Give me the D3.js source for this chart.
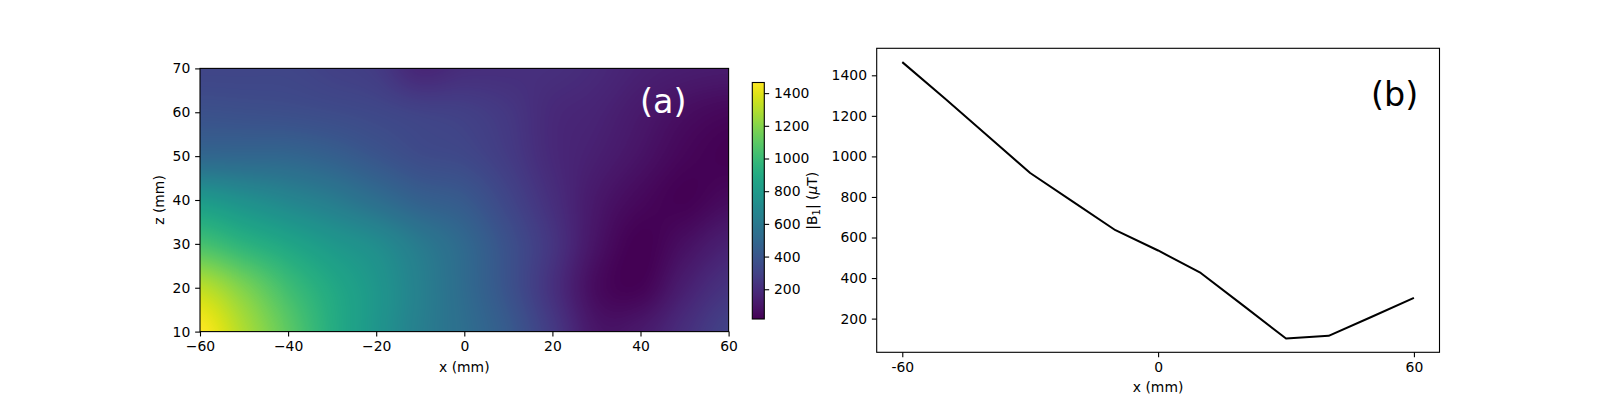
<!DOCTYPE html>
<html>
<head>
<meta charset="utf-8">
<script src="https://cdn.jsdelivr.net/npm/d3@7"></script>
<style>
  body { margin: 0; background: #fff; }
  text { font-family: "DejaVu Sans", sans-serif; }
</style>
</head>
<body>
<div id="chart"></div>
<script>
// grid positions (mm)
var xGrid = [-60, -50, -40, -30, -20, -10, 0, 10, 20, 30, 40, 50, 60];
var zGrid = [10, 20, 30, 40, 50, 60, 70];

// |B1| (uT), one row per z
var b1z10 = [1465, 1286, 1102, 918, 777, 636, 536, 425, 264, 102, 115, 208, 302];
var b1z20 = [1320, 1180, 1020, 890, 780, 645, 520, 385, 220, 60, 30, 140, 230];
var b1z30 = [1040, 950, 870, 790, 720, 610, 505, 375, 240, 90, 18, 75, 145];
var b1z40 = [800, 740, 680, 620, 540, 460, 420, 320, 210, 110, 50, 22, 58];
var b1z50 = [500, 495, 490, 455, 400, 350, 330, 270, 185, 140, 90, 40, 20];
var b1z60 = [376, 369, 362, 348, 330, 305, 290, 250, 185, 160, 115, 70, 45];
var b1z70 = [318, 318, 318, 296, 270, 175, 205, 210, 210, 185, 150, 130, 120];

var mapXTicks = [-60, -40, -20, 0, 20, 40, 60];
var mapZTicks = [10, 20, 30, 40, 50, 60, 70];
var barTicks = [200, 400, 600, 800, 1000, 1200, 1400];
var profXTicks = [-60, 0, 60];
var profXLabels = ["-60", "0", "60"];
var profYTicks = [200, 400, 600, 800, 1000, 1200, 1400];

function init() {
  var w = 1600, h = 396;
  var fs = 13.9, tick = 4.86;

  var svg = d3.select("#chart").append("svg")
    .attr("width", w).attr("height", h);

  var rows = [b1z10, b1z20, b1z30, b1z40, b1z50, b1z60, b1z70];
  var all = d3.merge(rows);
  var vmin = d3.min(all), vmax = d3.max(all);
  var color = d3.scaleSequential(d3.interpolateViridis).domain([vmin, vmax]);

  function styleAxis(g) {
    g.select(".domain").remove();
    g.selectAll("text").style("font-size", fs + "px").attr("fill", "#000");
    g.selectAll("line").attr("stroke", "#000").attr("stroke-width", 1.1);
  }

  // ---------- (a) map ----------
  var m = {l: 200, r: 728.6, t: 68.4, b: 331.6};
  var xS = d3.scaleLinear().domain([-60, 60]).range([m.l, m.r]);
  var zS = d3.scaleLinear().domain([10, 70]).range([m.b, m.t]);

  // smooth (catmull-rom) resampling of the grid for display, like imshow interpolation
  function cr(p0, p1, p2, p3, t) {
    return 0.5 * ((2 * p1) + (-p0 + p2) * t + (2 * p0 - 5 * p1 + 4 * p2 - p3) * t * t +
      (-p0 + 3 * p1 - 3 * p2 + p3) * t * t * t);
  }
  function at(j, i) {
    j = Math.max(0, Math.min(zGrid.length - 1, j));
    i = Math.max(0, Math.min(xGrid.length - 1, i));
    return rows[j][i];
  }
  function field(x, z) {
    var fx = Math.max(0, Math.min(xGrid.length - 1.0001, (x - xGrid[0]) / (xGrid[1] - xGrid[0])));
    var fz = Math.max(0, Math.min(zGrid.length - 1.0001, (z - zGrid[0]) / (zGrid[1] - zGrid[0])));
    var i = Math.floor(fx), j = Math.floor(fz), tx = fx - i, tz = fz - j;
    var col = [];
    for (var k = -1; k <= 2; k++) {
      col.push(cr(at(j + k, i - 1), at(j + k, i), at(j + k, i + 1), at(j + k, i + 2), tx));
    }
    var v = cr(col[0], col[1], col[2], col[3], tz);
    return Math.max(vmin, Math.min(vmax, v));
  }

  var W = Math.round(m.r - m.l), H = Math.round(m.b - m.t);
  var cv = document.createElement("canvas");
  cv.width = W; cv.height = H;
  var ctx = cv.getContext("2d");
  var img = ctx.createImageData(W, H);
  for (var py = 0; py < H; py++) {
    for (var px = 0; px < W; px++) {
      var x = xS.invert(m.l + (px + 0.5) * (m.r - m.l) / W);
      var z = zS.invert(m.t + (py + 0.5) * (m.b - m.t) / H);
      var c = d3.rgb(color(field(x, z)));
      var k = (py * W + px) * 4;
      img.data[k] = c.r; img.data[k + 1] = c.g; img.data[k + 2] = c.b; img.data[k + 3] = 255;
    }
  }
  ctx.putImageData(img, 0, 0);

  svg.append("image")
    .attr("x", m.l).attr("y", m.t)
    .attr("width", m.r - m.l).attr("height", m.b - m.t)
    .attr("preserveAspectRatio", "none")
    .attr("href", cv.toDataURL());

  svg.append("rect")
    .attr("x", m.l).attr("y", m.t)
    .attr("width", m.r - m.l).attr("height", m.b - m.t)
    .attr("fill", "none").attr("stroke", "#000").attr("stroke-width", 1.1);

  svg.append("g")
    .attr("transform", "translate(0," + m.b + ")")
    .call(d3.axisBottom(xS).tickValues(mapXTicks).tickSize(tick).tickPadding(tick)
      .tickFormat(function(d){ return d < 0 ? "\u2212" + Math.abs(d) : d; }))
    .call(styleAxis);

  svg.append("g")
    .attr("transform", "translate(" + m.l + ",0)")
    .call(d3.axisLeft(zS).tickValues(mapZTicks).tickSize(tick).tickPadding(tick))
    .call(styleAxis);

  svg.append("text")
    .attr("x", (m.l + m.r) / 2).attr("y", 372)
    .attr("text-anchor", "middle").style("font-size", fs + "px")
    .text("x (mm)");

  svg.append("text")
    .attr("transform", "translate(164," + ((m.t + m.b) / 2) + ") rotate(-90)")
    .attr("text-anchor", "middle").style("font-size", fs + "px")
    .text("z (mm)");

  svg.append("text")
    .attr("x", 640).attr("y", 113)
    .attr("fill", "#fff").style("font-size", "33.3px")
    .text("(a)");

  // ---------- colorbar ----------
  var cb = {l: 752.3, r: 764.3, t: 82.5, b: 319};
  var grad = svg.append("defs").append("linearGradient")
    .attr("id", "viridis").attr("x1", 0).attr("y1", 1).attr("x2", 0).attr("y2", 0);
  d3.range(0, 1.0001, 0.02).forEach(function(t){
    grad.append("stop").attr("offset", t).attr("stop-color", d3.interpolateViridis(t));
  });
  svg.append("rect")
    .attr("x", cb.l).attr("y", cb.t)
    .attr("width", cb.r - cb.l).attr("height", cb.b - cb.t)
    .attr("fill", "url(#viridis)").attr("stroke", "#000").attr("stroke-width", 1.1);

  var cS = d3.scaleLinear().domain([vmin, vmax]).range([cb.b, cb.t]);
  svg.append("g")
    .attr("transform", "translate(" + cb.r + ",0)")
    .call(d3.axisRight(cS).tickValues(barTicks).tickSize(tick).tickPadding(tick)
      .tickFormat(d3.format("d")))
    .call(styleAxis);

  var cbl = svg.append("text")
    .attr("transform", "translate(817," + ((cb.t + cb.b) / 2) + ") rotate(-90)")
    .attr("text-anchor", "middle").style("font-size", fs + "px");
  cbl.append("tspan").text("|B");
  cbl.append("tspan").text("1").style("font-size", "10px").attr("dy", 3);
  cbl.append("tspan").text("| (").attr("dy", -3);
  cbl.append("tspan").text("\u03bc").style("font-style", "italic");
  cbl.append("tspan").text("T)");

  // ---------- (b) profile ----------
  var p = {l: 876.7, r: 1439.5, t: 48.3, b: 352.3};
  var xr = 120 * 0.05;
  var pX = d3.scaleLinear().domain([xGrid[0] - xr, xGrid[xGrid.length - 1] + xr]).range([p.l, p.r]);
  var lo = d3.min(b1z10), hi = d3.max(b1z10), yr = (hi - lo) * 0.05;
  var pY = d3.scaleLinear().domain([lo - yr, hi + yr]).range([p.b, p.t]);

  var line = d3.line()
    .x(function(d, i){ return pX(xGrid[i]); })
    .y(function(d){ return pY(d); });

  svg.append("path")
    .datum(b1z10)
    .attr("d", line)
    .attr("fill", "none").attr("stroke", "#000").attr("stroke-width", 2)
    .attr("stroke-linejoin", "round");

  svg.append("rect")
    .attr("x", p.l).attr("y", p.t)
    .attr("width", p.r - p.l).attr("height", p.b - p.t)
    .attr("fill", "none").attr("stroke", "#000").attr("stroke-width", 1.1);

  svg.append("g")
    .attr("transform", "translate(0," + p.b + ")")
    .call(d3.axisBottom(pX).tickValues(profXTicks).tickSize(tick).tickPadding(tick)
      .tickFormat(function(d, i){ return profXLabels[i]; }))
    .call(styleAxis);

  svg.append("g")
    .attr("transform", "translate(" + p.l + ",0)")
    .call(d3.axisLeft(pY).tickValues(profYTicks).tickSize(tick).tickPadding(tick)
      .tickFormat(d3.format("d")))
    .call(styleAxis);

  svg.append("text")
    .attr("x", (p.l + p.r) / 2).attr("y", 392)
    .attr("text-anchor", "middle").style("font-size", fs + "px")
    .text("x (mm)");

  svg.append("text")
    .attr("x", 1371).attr("y", 106)
    .attr("fill", "#000").style("font-size", "33.3px")
    .text("(b)");
}

window.onload = init;
</script>
</body>
</html>
